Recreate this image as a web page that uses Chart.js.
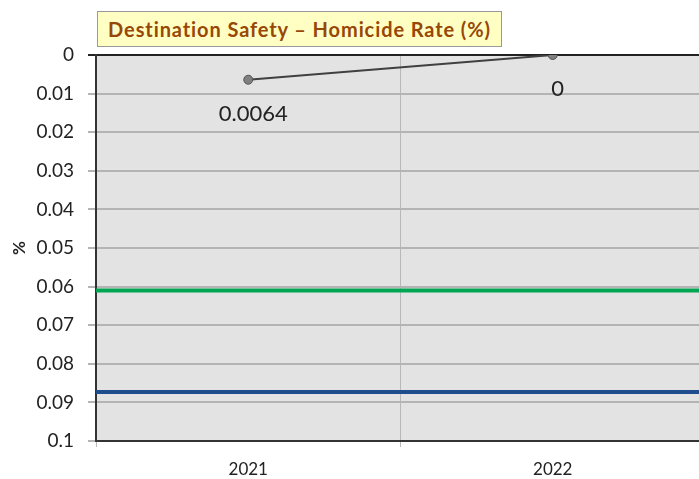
<!DOCTYPE html>
<html>
<head>
<meta charset="utf-8">
<script src="https://cdn.jsdelivr.net/npm/chart.js@4"></script>
<style>
  html, body { margin: 0; padding: 0; background: #fff; overflow: hidden; }
  #wrap { position: relative; width: 712px; height: 479px; }
  #title {
    position: absolute; left: 97px; top: 11px; width: 405px; height: 36px;
    background: #ffffc4; border: 1px solid #9a9a9a; box-sizing: border-box;
    color: #984806; font: bold 20px Lato, sans-serif; letter-spacing: 0.9px;
    display: flex; align-items: center; justify-content: center; white-space: nowrap;
  }
</style>
</head>
<body>
<div id="wrap">
  <canvas id="lineChart" width="712" height="479"></canvas>
  <div id="title">Destination Safety – Homicide Rate (%)</div>
</div>
<script>
// years on the x axis
const years = ['2021', '2022'];
// homicide rate per year
const rates = [0.0064, 0];
const rateLabels = ['0.0064', '0'];
// reference levels drawn across the plot
const refValues = [0.061, 0.0873];
const refColors = ['#00a651', '#1f4e8c'];

const ctx = document.getElementById('lineChart');

// gray plot area
const plotBg = {
  id: 'plotBg',
  beforeDraw(chart) {
    const a = chart.chartArea, c = chart.ctx;
    c.save();
    c.fillStyle = '#e3e3e3';
    c.fillRect(a.left, a.top, a.right - a.left, a.bottom - a.top);
    c.restore();
  }
};

// horizontal reference lines + value labels under the points
const extras = {
  id: 'extras',
  afterDatasetsDraw(chart) {
    const a = chart.chartArea, c = chart.ctx, y = chart.scales.y;
    c.save();
    refValues.forEach((v, i) => {
      const py = y.getPixelForValue(v);
      c.strokeStyle = refColors[i];
      c.lineWidth = 4;
      c.beginPath();
      c.moveTo(a.left, py);
      c.lineTo(a.right, py);
      c.stroke();
    });
    const meta = chart.getDatasetMeta(0);
    c.fillStyle = '#222';
    c.font = '22px Lato, sans-serif';
    c.textAlign = 'center';
    c.textBaseline = 'middle';
    meta.data.forEach((pt, i) => {
      c.fillText(rateLabels[i], pt.x + 5, pt.y + 34);
    });
    c.restore();
  }
};

new Chart(ctx, {
  type: 'line',
  data: {
    labels: years,
    datasets: [{
      data: rates,
      borderColor: '#404040',
      borderWidth: 2,
      pointRadius: 4.5,
      pointBackgroundColor: '#7f7f7f',
      pointBorderColor: '#555',
      pointBorderWidth: 1,
      tension: 0
    }]
  },
  options: {
    responsive: false,
    animation: false,
    layout: { padding: { top: 55, left: 0, right: 7, bottom: 0 } },
    plugins: { legend: { display: false }, tooltip: { enabled: false } },
    scales: {
      x: {
        offset: true,
        grid: { offset: true, color: '#b8b8b8', lineWidth: 1, tickLength: 6 },
        border: { color: '#333', width: 2 },
        ticks: { color: '#222', font: { family: 'Lato', size: 17 }, padding: 12 },
        afterFit(scale) { scale.height = 38; }
      },
      y: {
        reverse: true,
        min: 0,
        max: 0.1,
        ticks: {
          stepSize: 0.01,
          color: '#222',
          padding: 14,
          font: { family: 'Lato', size: 19 },
          callback: v => String(Math.round(v * 100) / 100)
        },
        grid: {
          color: c => (c.tick && c.tick.value === 0) ? '#222' : '#b4b4b4',
          lineWidth: 2,
          tickLength: 8
        },
        border: { color: '#333', width: 2 },
        title: { display: true, text: '%', color: '#222', font: { family: 'Lato', size: 17, weight: 'bold' }, padding: { top: 9, bottom: 0 } },
        afterFit(scale) { scale.width = 96; }
      }
    }
  },
  plugins: [plotBg, extras]
});
</script>
</body>
</html>
